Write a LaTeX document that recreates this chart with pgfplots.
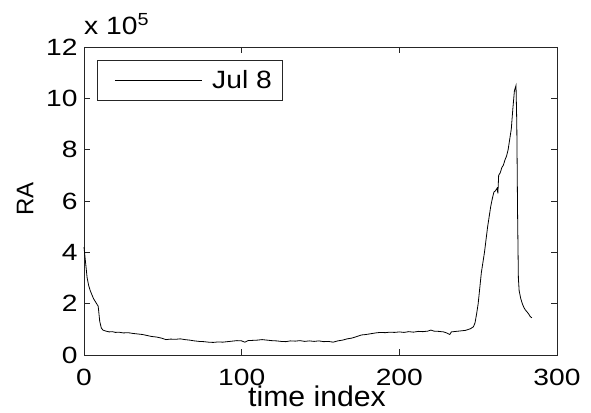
\documentclass[border=0pt]{standalone}
\usepackage{graphicx}
\usepackage{pgfplots}
\pgfplotsset{compat=1.18}
\usepackage{fontspec}
\setmainfont{Liberation Sans}
\newcommand\tfont{\fontsize{25}{30}\selectfont}
\newcommand\kfont{\fontsize{23.5}{28}\selectfont}
\newcommand\lfont{\fontsize{28.5}{33}\selectfont}
\newcommand\sx[1]{\scalebox{1.13}[1]{#1}}
\newcommand\sk[1]{\scalebox{1.2}[1]{#1}}
\begin{document}
\begin{tikzpicture}
\begin{axis}[
  name=ax,
  scale only axis,
  width=473pt, height=308pt,
  xmin=0, xmax=300, ymin=0, ymax=12,
  xtick={0,100,200,300},
  ytick={0,2,4,6,8,10,12},
  tick pos=both, tick align=inside,
  major tick length=6pt,
  axis line style={black!85, line width=0.8pt},
  every tick/.style={black!85, line width=0.8pt},
  /pgf/number format/assume math mode=true,
  tick label style={font=\kfont},
  xticklabel={\sk{\pgfmathprintnumber{\tick}}},
  yticklabel={\sk{\pgfmathprintnumber{\tick}}},
  xticklabel style={yshift=-10.5pt},
  yticklabel style={xshift=-3pt},
  xlabel={\scalebox{1.06}[1]{time index}},
  ylabel={RA},
  xlabel style={font=\lfont, at={(axis description cs:0.4926,0)}, anchor=base, yshift=-51.5pt},
  ylabel style={font=\fontsize{24}{28}\selectfont, at={(axis description cs:-0.1247,0.5065)}, anchor=center},
  legend style={at={(axis description cs:0.0275,0.958)}, anchor=north west,
    draw=black!85, line width=0.8pt, fill=white, font=\tfont,
    inner xsep=11pt, inner ysep=10pt, nodes={inner sep=0pt}, column sep=10pt},
  legend image code/.code={\path (0pt,0pt); \draw[black, line width=0.8pt] (6pt,0pt) -- (93pt,0pt);},
  clip=false,
]
\addplot[black, line width=0.8pt] coordinates {
(0,4.2) (1,3.6) (2,3.0) (3,2.7) (4,2.5) (5,2.35) (6,2.2) (7,2.1) (8,2.0) (9,1.9)
(10,1.3) (11,1.05) (12,0.97) (14,0.93) (16,0.90) (18,0.91) (20,0.88) (22,0.89)
(25,0.86) (28,0.87) (31,0.84) (34,0.82) (37,0.80) (40,0.76) (43,0.72) (46,0.70)
(49,0.66) (52,0.60) (55,0.62) (58,0.61) (61,0.63) (64,0.60) (67,0.58) (70,0.55)
(73,0.53) (76,0.52) (79,0.50) (82,0.49) (85,0.51) (88,0.50) (91,0.52) (94,0.54)
(97,0.56) (100,0.55) (102,0.50) (104,0.56) (107,0.57) (110,0.58) (113,0.60)
(116,0.58) (119,0.56) (122,0.55) (125,0.53) (128,0.52) (131,0.55) (134,0.54)
(137,0.56) (140,0.53) (143,0.55) (146,0.53) (149,0.55) (152,0.52) (155,0.53)
(158,0.50) (161,0.55) (164,0.58) (167,0.63) (170,0.66) (173,0.72) (176,0.78)
(179,0.80) (182,0.83) (185,0.86) (188,0.88) (191,0.87) (194,0.89) (197,0.88)
(200,0.90) (203,0.88) (206,0.91) (209,0.89) (212,0.92) (215,0.91) (218,0.93)
(220,0.97) (222,0.93) (225,0.92) (228,0.90) (230,0.86) (232,0.80) (233,0.90)
(236,0.92) (239,0.94) (242,0.96) (245,1.02) (247,1.10) (248,1.25) (249,1.6)
(250,2.0) (251,2.6) (252,3.2) (253,3.6) (254,4.0) (255,4.5) (256,5.0) (257,5.4)
(258,5.8) (259,6.1) (260,6.35) (261,6.4) (262,6.5) (262.5,6.3) (263,7.0)
(264,7.1) (265,7.3) (266,7.4) (267,7.6) (268,7.75) (269,8.0) (270,8.4) (271,8.8)
(272,9.6) (273,10.3) (274,10.5) (274.5,9.0) (275,5.5) (275.5,3.0) (276,2.5)
(277,2.2) (278,2.0) (279,1.85) (280,1.75) (281,1.68) (282,1.6) (283,1.5) (284,1.45)
};
\addlegendentry{\sx{Jul 8}}
\node[anchor=base west, font=\tfont, inner sep=0pt] at (rel axis cs:0,1) [yshift=12pt] {\sx{x 10\textsuperscript{5}}};
\end{axis}
\path (ax.south west) ++(-84pt,-57pt) rectangle ++(591pt,412pt);
\end{tikzpicture}
\end{document}
